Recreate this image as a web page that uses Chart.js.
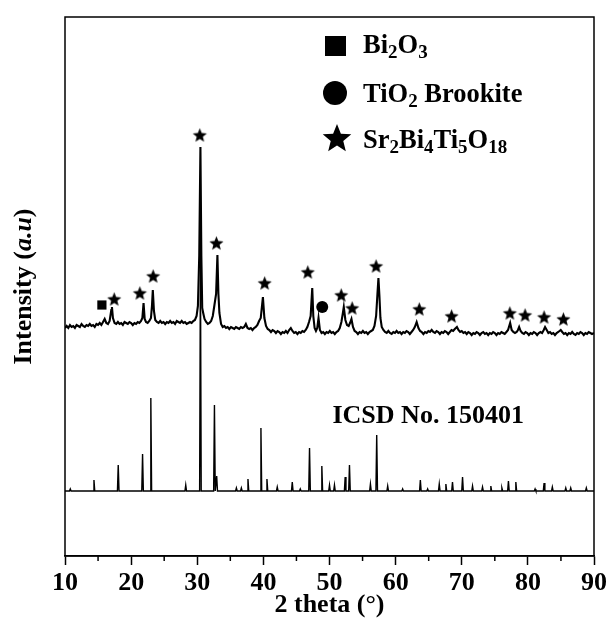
<!DOCTYPE html>
<html>
<head>
<meta charset="utf-8">
<script src="https://cdn.jsdelivr.net/npm/chart.js@4.4.0/dist/chart.umd.min.js"></script>
<style>
html, body { margin: 0; padding: 0; background: #fff; }
</style>
</head>
<body>
<canvas id="xrd" width="610" height="619"></canvas>
<script>
// --- DATOS ---
// patron medido: [2theta, intensidad]
const measured = [
  [10.00,228],[10.25,230],[10.50,228],[10.75,231],[11.00,229],[11.25,230],[11.50,228],[11.75,231],
  [12.00,230],[12.25,229],[12.50,232],[12.75,230],[13.00,229],[13.25,231],[13.50,230],[13.75,232],
  [14.00,230],[14.25,231],[14.50,229],[14.75,232],[15.00,231],[15.25,233],[15.50,231],[15.75,234],
  [16.00,237],[16.25,233],[16.50,232],[16.75,235],[17.00,246],[17.10,249],[17.25,238],[17.50,233],
  [17.75,232],[18.00,234],[18.25,232],[18.50,233],[18.75,231],[19.00,234],[19.25,233],[19.50,232],
  [19.75,234],[20.00,233],[20.25,231],[20.50,233],[20.75,232],[21.00,234],[21.25,233],[21.50,235],
  [21.70,238],[21.88,253],[22.05,237],[22.25,234],[22.50,233],[22.75,235],[23.00,238],[23.15,250],
  [23.28,266],[23.45,245],[23.65,236],[23.90,234],[24.15,233],[24.40,235],[24.65,233],[24.90,234],
  [25.15,232],[25.40,234],[25.65,233],[25.90,235],[26.15,233],[26.40,234],[26.65,232],[26.90,235],
  [27.15,234],[27.40,233],[27.65,235],[27.90,233],[28.15,234],[28.40,232],[28.65,233],[28.90,234],
  [29.15,233],[29.40,235],[29.65,236],[29.90,240],[30.10,250],[30.30,300],[30.48,409],[30.62,300],
  [30.75,248],[30.90,243],[31.10,237],[31.35,234],[31.60,232],[31.85,233],[32.10,235],[32.35,240],
  [32.60,251],[32.85,262],[33.05,301],[33.20,262],[33.35,243],[33.60,232],[33.85,229],[34.10,230],
  [34.35,228],[34.60,229],[34.85,227],[35.10,229],[35.35,228],[35.60,227],[35.85,229],[36.10,228],
  [36.35,227],[36.60,229],[36.85,228],[37.10,229],[37.35,232],[37.60,228],[37.85,227],[38.10,228],
  [38.35,226],[38.60,228],[38.85,229],[39.10,231],[39.35,235],[39.60,238],[39.93,259],[40.15,238],
  [40.40,230],[40.65,227],[40.90,226],[41.15,224],[41.40,226],[41.65,225],[41.90,223],[42.15,225],
  [42.40,224],[42.65,222],[42.90,224],[43.15,223],[43.40,225],[43.65,223],[43.90,226],[44.15,228],
  [44.40,225],[44.65,223],[44.90,224],[45.15,222],[45.40,224],[45.65,223],[45.90,225],[46.15,224],
  [46.40,226],[46.65,229],[46.90,234],[47.15,240],[47.39,268],[47.55,240],[47.75,228],[47.95,225],
  [48.15,228],[48.34,238],[48.55,226],[48.80,223],[49.05,224],[49.30,222],[49.55,224],[49.80,223],
  [50.05,225],[50.30,223],[50.55,224],[50.80,222],[51.05,224],[51.30,225],[51.55,228],[51.80,234],
  [52.00,242],[52.16,249],[52.40,236],[52.65,231],[52.90,230],[53.10,233],[53.32,237],[53.55,229],
  [53.80,225],[54.05,224],[54.30,222],[54.55,224],[54.80,223],[55.05,225],[55.30,223],[55.55,224],
  [55.80,222],[56.05,224],[56.30,225],[56.55,226],[56.80,230],[57.05,240],[57.25,262],[57.40,278],
  [57.55,260],[57.70,238],[57.90,229],[58.15,226],[58.40,224],[58.65,223],[58.90,225],[59.15,223],
  [59.40,222],[59.65,224],[59.90,223],[60.15,225],[60.40,223],[60.65,224],[60.90,222],[61.15,224],
  [61.40,223],[61.65,225],[61.90,224],[62.15,222],[62.40,224],[62.65,226],[62.90,229],[63.18,234],
  [63.45,228],[63.70,225],[63.95,224],[64.20,222],[64.45,224],[64.70,223],[64.95,225],[65.20,224],
  [65.45,226],[65.70,224],[65.95,223],[66.20,225],[66.45,224],[66.70,222],[66.95,224],[67.20,223],
  [67.45,225],[67.70,224],[67.95,222],[68.20,224],[68.45,226],[68.70,225],[68.95,227],[69.27,229],
  [69.50,226],[69.75,224],[70.00,225],[70.25,223],[70.50,224],[70.75,222],[71.00,224],[71.25,223],
  [71.50,221],[71.75,223],[72.00,222],[72.25,224],[72.50,223],[72.75,221],[73.00,223],[73.25,224],
  [73.50,222],[73.75,223],[74.00,221],[74.25,223],[74.50,222],[74.75,224],[75.00,223],[75.25,221],
  [75.50,223],[75.75,222],[76.00,224],[76.25,223],[76.50,222],[76.75,224],[77.00,226],[77.32,233],
  [77.55,226],[77.80,224],[78.05,223],[78.30,224],[78.50,226],[78.68,229],[78.90,225],[79.15,223],
  [79.40,222],[79.65,224],[79.90,223],[80.15,221],[80.40,223],[80.65,222],[80.90,224],[81.15,223],
  [81.40,221],[81.65,223],[81.90,224],[82.15,223],[82.40,226],[82.60,229],[82.85,226],[83.10,223],
  [83.35,224],[83.60,222],[83.85,223],[84.10,221],[84.35,223],[84.60,224],[84.97,226],[85.20,224],
  [85.45,222],[85.70,223],[85.95,221],[86.20,223],[86.45,222],[86.70,224],[86.95,222],[87.20,221],
  [87.45,223],[87.70,222],[87.95,224],[88.20,223],[88.45,221],[88.70,223],[88.95,222],[89.20,224],
  [89.45,223],[89.70,222],[90.00,223]
];

// patron de referencia ICSD 150401 (posicion y altura de cada pico)
const refBase = 65;
const refTheta = [10.8, 14.38, 18.05, 21.73, 22.98, 28.26, 30.48, 32.6, 32.94, 35.92, 36.67, 37.67,
  39.63, 40.54, 42.1, 44.37, 45.58, 46.98, 48.84, 50.0, 50.75, 52.37, 53.02, 56.19, 57.14, 58.8,
  61.06, 63.74, 64.84, 66.6, 67.6, 68.6, 70.12, 71.63, 73.14, 74.4, 76.07, 77.06, 78.18, 81.09,
  82.45, 83.7, 85.73, 86.48, 88.84];
const refHeight = [2, 11, 26, 37, 93, 6, 235, 86, 15, 3, 3, 12,
  63, 12, 4, 9, 2, 43, 25, 6, 6, 14, 26, 7, 56, 5,
  2, 11, 2, 7, 7, 9, 14, 5, 4, 5, 3, 10, 9, 2,
  8, 4, 3, 3, 3];

// marcadores de fases
const starTheta = [17.44, 21.32, 23.33, 30.38, 32.9, 40.19, 46.72, 51.77, 53.43, 57.05, 63.58, 68.46, 77.27, 79.58, 82.45, 85.37];
const starValue = [257, 263, 280, 421, 313, 273, 284, 261, 248, 290, 247, 240, 243, 241, 239, 237];
const squareTheta = [15.58];
const squareValue = [251];
const circleTheta = [48.9];
const circleValue = [249];

const xTicks = [10, 20, 30, 40, 50, 60, 70, 80, 90];
const xMinorTicks = [15, 25, 35, 45, 55, 65, 75, 85];

const SERIF = '"Liberation Serif", "Times New Roman", serif';

// --- HELPERS ---
function starPath(ctx, cx, cy, r, inner) {
    ctx.beginPath();
    for (let i = 0; i < 10; i++) {
        const a = -Math.PI / 2 + i * Math.PI / 5;
        const rad = i % 2 ? r * inner : r;
        const px = cx + rad * Math.cos(a), py = cy + rad * Math.sin(a);
        if (i === 0) ctx.moveTo(px, py); else ctx.lineTo(px, py);
    }
    ctx.closePath();
}

function makeStar(r) {
    const c = document.createElement('canvas');
    const size = Math.ceil(r * 2 + 2);
    c.width = size; c.height = size;
    const g = c.getContext('2d');
    g.fillStyle = '#000';
    starPath(g, size / 2, size / 2 + r * 0.1, r, 0.44);
    g.fill();
    return c;
}

// texto con subindices: parts = [[texto, esSub]]
function drawRich(ctx, x, y, parts, size) {
    let cx = x;
    parts.forEach(([t, sub]) => {
        ctx.font = 'bold ' + (sub ? Math.round(size * 0.72) : size) + 'px ' + SERIF;
        ctx.fillText(t, cx, sub ? y + size * 0.2 : y);
        cx += ctx.measureText(t).width;
    });
}

// --- PLUGINS ---
const framePlugin = {
    id: 'frame',
    afterDraw(chart) {
        const { ctx, chartArea: a } = chart;
        const xs = chart.scales.x;
        ctx.save();
        ctx.strokeStyle = '#000';
        ctx.lineWidth = 1.5;
        ctx.strokeRect(a.left, a.top, a.right - a.left, a.bottom - a.top);
        // ticks menores
        xMinorTicks.forEach(v => {
            const px = xs.getPixelForValue(v);
            ctx.beginPath();
            ctx.moveTo(px, a.bottom);
            ctx.lineTo(px, a.bottom + 5);
            ctx.stroke();
        });
        ctx.restore();
    }
};

const labelsPlugin = {
    id: 'labels',
    afterDraw(chart) {
        const { ctx, chartArea: a } = chart;
        const xs = chart.scales.x, ys = chart.scales.y;
        ctx.save();
        ctx.fillStyle = '#000';
        ctx.textBaseline = 'alphabetic';
        ctx.textAlign = 'left';

        // leyenda
        const tx = 363;
        ctx.fillRect(325, 36, 21, 20);
        drawRich(ctx, tx, 53, [['Bi', 0], ['2', 1], ['O', 0], ['3', 1]], 26.5);
        ctx.beginPath();
        ctx.arc(335, 93, 12, 0, Math.PI * 2);
        ctx.fill();
        drawRich(ctx, tx, 102, [['TiO', 0], ['2', 1], [' Brookite', 0]], 26.5);
        starPath(ctx, 337, 139, 15, 0.44);
        ctx.fill();
        drawRich(ctx, tx, 148, [['Sr', 0], ['2', 1], ['Bi', 0], ['4', 1], ['Ti', 0], ['5', 1], ['O', 0], ['18', 1]], 26.5);

        // etiqueta del patron de referencia
        ctx.font = 'bold 26px ' + SERIF;
        ctx.fillText('ICSD No. 150401', xs.getPixelForValue(50.45), ys.getPixelForValue(133));

        // titulo eje Y con a.u en cursiva
        const parts = [['Intensity (', 'bold'], ['a.u', 'italic bold'], [')', 'bold']];
        let total = 0;
        parts.forEach(p => { ctx.font = p[1] + ' 26px ' + SERIF; total += ctx.measureText(p[0]).width; });
        ctx.translate(24, (a.top + a.bottom) / 2);
        ctx.rotate(-Math.PI / 2);
        ctx.textBaseline = 'middle';
        let cx = -total / 2;
        parts.forEach(p => {
            ctx.font = p[1] + ' 26px ' + SERIF;
            ctx.fillText(p[0], cx, 0);
            cx += ctx.measureText(p[0]).width;
        });
        ctx.restore();
    }
};

// --- CHART ---
const refLine = [];
refTheta.forEach((t, i) => {
    refLine.push({ x: t - 0.12, y: refBase });
    refLine.push({ x: t, y: refBase + refHeight[i] });
    refLine.push({ x: t + 0.12, y: refBase });
});
refLine.unshift({ x: 10, y: refBase });
refLine.push({ x: 90, y: refBase });

const ctx = document.getElementById('xrd').getContext('2d');
new Chart(ctx, {
    type: 'scatter',
    data: {
        datasets: [
            {
                label: 'measured',
                data: measured.map(p => ({ x: p[0], y: p[1] })),
                showLine: true, borderColor: '#000', borderWidth: 2.1,
                pointRadius: 0, tension: 0
            },
            {
                label: 'ICSD 150401',
                data: refLine,
                showLine: true, borderColor: '#000', borderWidth: 1.4,
                pointRadius: 0, tension: 0
            },
            {
                label: 'stars',
                data: starTheta.map((t, i) => ({ x: t, y: starValue[i] })),
                pointStyle: makeStar(7.4), pointRadius: 7
            },
            {
                label: 'Bi2O3',
                data: squareTheta.map((t, i) => ({ x: t, y: squareValue[i] })),
                pointStyle: 'rect', pointRadius: 6.5, backgroundColor: '#000', borderColor: '#000', borderWidth: 0
            },
            {
                label: 'TiO2',
                data: circleTheta.map((t, i) => ({ x: t, y: circleValue[i] })),
                pointStyle: 'circle', pointRadius: 6, backgroundColor: '#000', borderColor: '#000', borderWidth: 0
            }
        ]
    },
    options: {
        responsive: false,
        animation: false,
        events: [],
        layout: { padding: { left: 65, right: 15, top: 17, bottom: 0 } },
        plugins: { legend: { display: false }, tooltip: { enabled: false } },
        scales: {
            x: {
                type: 'linear', min: 10, max: 90,
                afterBuildTicks: s => { s.ticks = xTicks.map(v => ({ value: v })); },
                afterFit: s => { s.height = 63; },
                ticks: {
                    color: '#000', padding: 3,
                    font: { family: SERIF, size: 26, weight: 'bold' }
                },
                grid: { drawOnChartArea: false, tickLength: 9, tickWidth: 1.5, tickColor: '#000' },
                border: { display: true, color: '#000', width: 1.5 },
                title: {
                    display: true, text: '2 theta (\u00b0)', color: '#000',
                    padding: { top: 0, bottom: -2 },
                    font: { family: SERIF, size: 26, weight: 'bold' }
                }
            },
            y: { display: false, min: 0, max: 539 }
        }
    },
    plugins: [framePlugin, labelsPlugin]
});
</script>
</body>
</html>
